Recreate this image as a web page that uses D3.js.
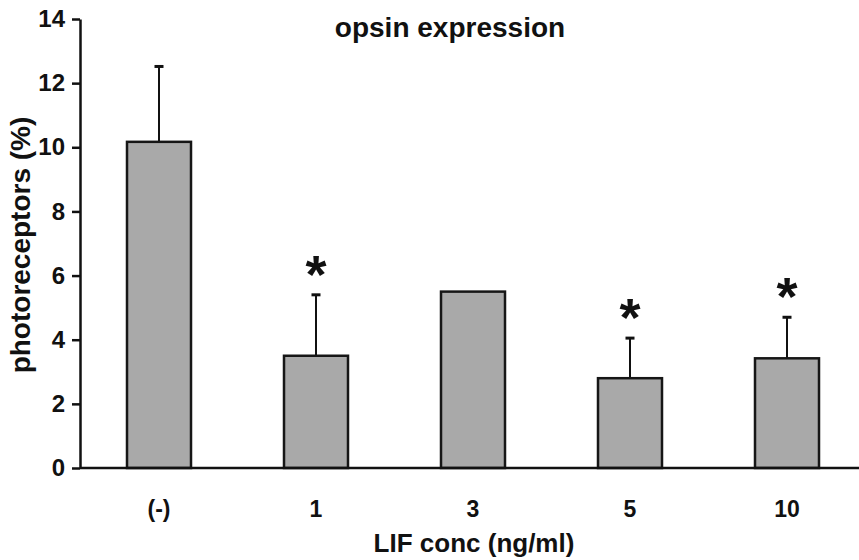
<!DOCTYPE html>
<html>
<head>
<meta charset="utf-8">
<script src="https://cdn.jsdelivr.net/npm/d3@7"></script>
<style>
  body { margin: 0; background: #fff; }
  svg text { font-family: "Liberation Sans", Arial, sans-serif; font-weight: bold; fill: #111; }
</style>
</head>
<body>
<svg class="canvas" width="859" height="560"></svg>
<script>
const categories = ["(-)", "1", "3", "5", "10"];
const values = [10.17, 3.5, 5.5, 2.8, 3.42];
const errors = [2.35, 1.9, 0, 1.25, 1.28];
const significant = [false, true, false, true, true];
const yTicks = [0, 2, 4, 6, 8, 10, 12, 14];

const svg = d3.select(".canvas");
const margin = { top: 19, left: 80, right: 0, bottom: 92 };
const width = 859;
const height = 560;
const y0 = height - margin.bottom; // baseline of the bars

const x = d3
  .scalePoint()
  .domain(categories)
  .range([80.5, 865.5])
  .padding(0.5);

const y = d3.scaleLinear().domain([0, 14]).range([y0, margin.top]);

const barWidth = 64;

// y axis
const yAxis = d3
  .axisLeft(y)
  .tickValues(yTicks)
  .tickSize(8)
  .tickPadding(7)
  .tickSizeOuter(0);

const yAxisGroup = svg
  .append("g")
  .attr("transform", `translate(${margin.left},0)`)
  .call(yAxis);

yAxisGroup.select(".domain").attr("stroke", "#111").attr("stroke-width", 2.5);
yAxisGroup.selectAll(".tick line").attr("stroke", "#111").attr("stroke-width", 2.5);
yAxisGroup
  .selectAll(".tick text")
  .style("font-size", "24px")
  .attr("fill", "#111")
  .style("font-family", "'Liberation Sans', Arial, sans-serif")
  .style("font-weight", "bold");

// bars
const data = categories.map((c, i) => ({
  name: c,
  value: values[i],
  err: errors[i],
  sig: significant[i],
}));

const bars = svg.append("g");

// error bars (drawn first so the bar outline sits on top)
const err = bars
  .selectAll("g.err")
  .data(data.filter((d) => d.err > 0))
  .enter()
  .append("g")
  .attr("class", "err");

err
  .append("line")
  .attr("x1", (d) => x(d.name))
  .attr("x2", (d) => x(d.name))
  .attr("y1", (d) => y(d.value))
  .attr("y2", (d) => y(d.value + d.err))
  .attr("stroke", "#111")
  .attr("stroke-width", 2);

err
  .append("line")
  .attr("x1", (d) => x(d.name) - 4.5)
  .attr("x2", (d) => x(d.name) + 4.5)
  .attr("y1", (d) => y(d.value + d.err))
  .attr("y2", (d) => y(d.value + d.err))
  .attr("stroke", "#111")
  .attr("stroke-width", 3);

bars
  .selectAll("rect")
  .data(data)
  .enter()
  .append("rect")
  .attr("x", (d) => x(d.name) - barWidth / 2)
  .attr("width", barWidth)
  .attr("y", (d) => y(d.value))
  .attr("height", (d) => y0 - y(d.value))
  .attr("fill", "#a9a9a9")
  .attr("stroke", "#161616")
  .attr("stroke-width", 2.5);

// significance stars
bars
  .selectAll("text.star")
  .data(data.filter((d) => d.sig))
  .enter()
  .append("text")
  .attr("class", "star")
  .attr("x", (d) => x(d.name))
  .attr("y", (d) => y(d.value + d.err) - 2)
  .attr("text-anchor", "middle")
  .style("font-size", "54px")
  .text("*");

// x axis line (no ticks)
svg
  .append("line")
  .attr("x1", margin.left)
  .attr("x2", width)
  .attr("y1", y0)
  .attr("y2", y0)
  .attr("stroke", "#111")
  .attr("stroke-width", 2.5);

// x tick labels
svg
  .append("g")
  .selectAll("text")
  .data(categories)
  .enter()
  .append("text")
  .attr("x", (d) => x(d))
  .attr("y", 517)
  .attr("text-anchor", "middle")
  .style("font-size", "23px")
  .text((d) => d);

// titles
svg
  .append("text")
  .attr("x", 450)
  .attr("y", 37)
  .attr("text-anchor", "middle")
  .style("font-size", "28px")
  .text("opsin expression");

svg
  .append("text")
  .attr("x", 474)
  .attr("y", 552)
  .attr("text-anchor", "middle")
  .style("font-size", "26px")
  .text("LIF conc (ng/ml)");

svg
  .append("text")
  .attr("transform", "translate(30,245) rotate(-90)")
  .attr("text-anchor", "middle")
  .style("font-size", "28px")
  .text("photoreceptors (%)");
</script>
</body>
</html>
